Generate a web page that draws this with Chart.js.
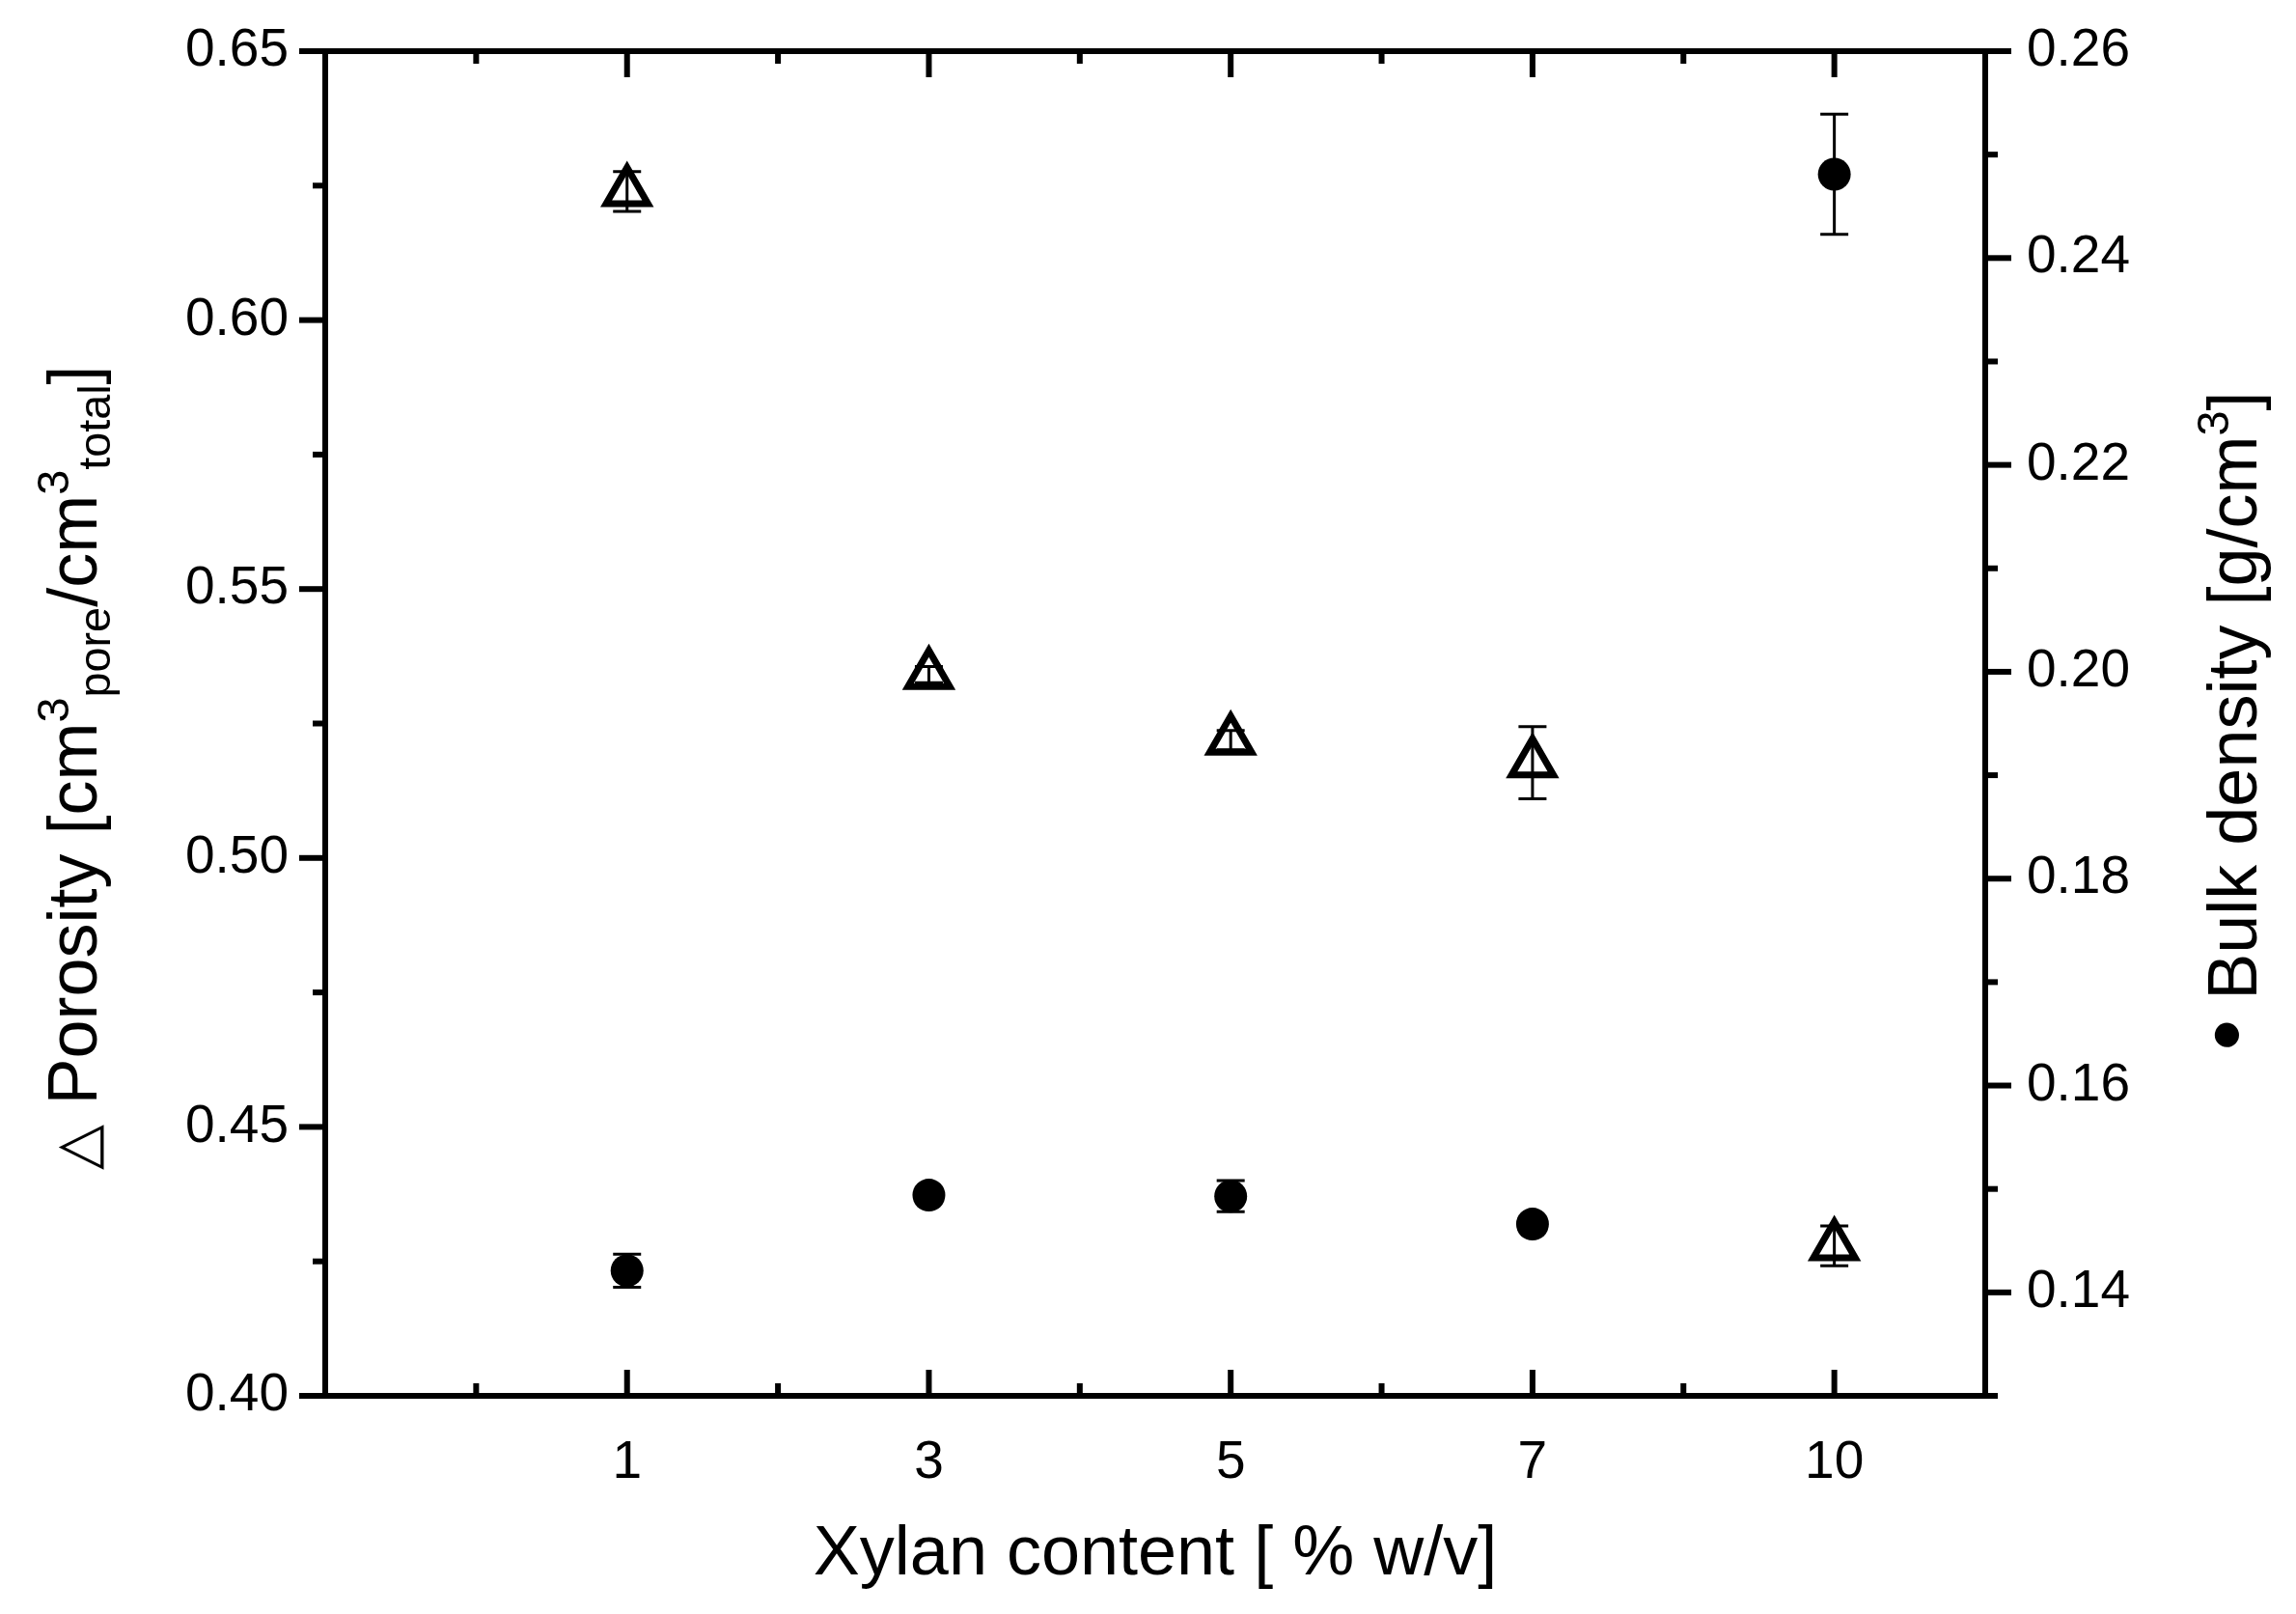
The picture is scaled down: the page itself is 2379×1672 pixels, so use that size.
<!DOCTYPE html>
<html>
<head>
<meta charset="utf-8">
<script src="https://cdn.jsdelivr.net/npm/chart.js@4.4.1/dist/chart.umd.min.js"></script>
<style>
  html, body { margin: 0; padding: 0; background: #fff; }
  canvas { display: block; }
</style>
</head>
<body>
<canvas id="chart" width="2379" height="1672" style="width:2379px;height:1672px"></canvas>
<script>
// categories (plotted at equal spacing, like the original)
const xylanLabels = ['1', '3', '5', '7', '10'];
const xPositions = [1, 2, 3, 4, 5];

// triangles, left axis
const porosity = [0.6239, 0.5341, 0.5219, 0.5177, 0.4279];
const porosityErr = [0.0037, 0.0015, 0.0018, 0.0067, 0.0037];

// filled circles, right axis
const density = [0.1421, 0.1494, 0.1493, 0.1466, 0.2481];
const densityErr = [0.0016, 0.0004, 0.0015, 0.0004, 0.0058];

// tick values
const xMinorTicks = [0.5, 1.5, 2.5, 3.5, 4.5];
const leftTicks = [0.40, 0.45, 0.50, 0.55, 0.60, 0.65];
const leftMinorTicks = [0.425, 0.475, 0.525, 0.575, 0.625];
const rightTicks = [0.14, 0.16, 0.18, 0.20, 0.22, 0.24, 0.26];
const rightMinorTicks = [0.13, 0.15, 0.17, 0.19, 0.21, 0.23, 0.25];

const leftTitle = [
    { text: '\u25B3', scale: 0.85 },
    { text: ' Porosity [cm' },
    { text: '3', sup: true },
    { text: 'pore', sub: true },
    { text: '/cm' },
    { text: '3', sup: true },
    { text: 'total', sub: true },
    { text: ']' },
];
const rightTitle = [
    { text: '\u2022', scale: 1.3 },
    { text: ' Bulk density [g/cm' },
    { text: '3', sup: true },
    { text: ']' },
];

const FONT = "'Liberation Sans', Arial, sans-serif";
const TITLE_SIZE = 72;
const TICK_SIZE = 55;

const toPoints = (values) => values.map((v, i) => ({ x: xPositions[i], y: v }));

const frameAndTicks = {
    id: 'frameAndTicks',
    beforeDatasetsDraw(chart) {
        const { ctx, chartArea: a, scales } = chart;
        const MAJOR = 27, MINOR = 13;
        const line = (x1, y1, x2, y2) => {
            ctx.beginPath();
            ctx.moveTo(x1, y1);
            ctx.lineTo(x2, y2);
            ctx.stroke();
        };
        const label = (text, x, y, align) => {
            ctx.textAlign = align;
            ctx.textBaseline = 'middle';
            ctx.fillText(text, x, y);
        };
        ctx.save();
        ctx.strokeStyle = '#000';
        ctx.fillStyle = '#000';
        ctx.font = TICK_SIZE + 'px ' + FONT;
        ctx.lineWidth = 6;
        ctx.strokeRect(a.left, a.top, a.right - a.left, a.bottom - a.top);

        const xTick = (v, len) => {
            const px = scales.x.getPixelForValue(v);
            line(px, a.bottom, px, a.bottom - len);
            line(px, a.top, px, a.top + len);
        };
        xPositions.forEach(v => xTick(v, MAJOR));
        xMinorTicks.forEach(v => xTick(v, MINOR));
        xPositions.forEach((v, i) => label(xylanLabels[i], scales.x.getPixelForValue(v), a.bottom + 70, 'center'));

        const leftTick = (v, len) => {
            const py = scales.y.getPixelForValue(v);
            line(a.left, py, a.left - len, py);
        };
        leftTicks.forEach(v => leftTick(v, MAJOR));
        leftMinorTicks.forEach(v => leftTick(v, MINOR));
        leftTicks.forEach(v => label(v.toFixed(2), a.left - 38, scales.y.getPixelForValue(v), 'right'));

        const rightTick = (v, len) => {
            const py = scales.y2.getPixelForValue(v);
            line(a.right, py, a.right + len, py);
        };
        rightTicks.forEach(v => rightTick(v, MAJOR));
        rightMinorTicks.forEach(v => rightTick(v, MINOR));
        rightTicks.forEach(v => label(v.toFixed(2), a.right + 43, scales.y2.getPixelForValue(v), 'left'));
        ctx.restore();
    }
};

const errorBars = {
    id: 'errorBars',
    afterDatasetsDraw(chart) {
        const { ctx } = chart;
        const cap = 14.5;
        ctx.save();
        ctx.strokeStyle = '#000';
        ctx.lineWidth = 3;
        chart.data.datasets.forEach((ds) => {
            const yScale = chart.scales[ds.yAxisID];
            ds.data.forEach((p, j) => {
                const err = ds.errors[j];
                const px = chart.scales.x.getPixelForValue(p.x);
                const top = yScale.getPixelForValue(p.y + err);
                const bot = yScale.getPixelForValue(p.y - err);
                ctx.beginPath();
                ctx.moveTo(px, top); ctx.lineTo(px, bot);
                ctx.moveTo(px - cap, top); ctx.lineTo(px + cap, top);
                ctx.moveTo(px - cap, bot); ctx.lineTo(px + cap, bot);
                ctx.stroke();
            });
        });
        ctx.restore();
    }
};

// rotated titles with super/subscripts
const drawRich = (ctx, parts, baseX, centerY) => {
    const fontFor = (p) => {
        let size = TITLE_SIZE * (p.scale || 1);
        if (p.sup || p.sub) size = TITLE_SIZE * 0.65;
        return size + 'px ' + FONT;
    };
    let total = 0;
    parts.forEach(p => {
        ctx.font = fontFor(p);
        p.w = ctx.measureText(p.text).width;
        total += p.w;
    });
    ctx.save();
    ctx.translate(baseX, centerY);
    ctx.rotate(-Math.PI / 2);
    ctx.fillStyle = '#000';
    ctx.textBaseline = 'alphabetic';
    ctx.textAlign = 'left';
    let x = -total / 2;
    parts.forEach(p => {
        ctx.font = fontFor(p);
        let dy = 0;
        if (p.sup) dy = -TITLE_SIZE * 0.40;
        if (p.sub) dy = TITLE_SIZE * 0.20;
        ctx.fillText(p.text, x, dy);
        x += p.w;
    });
    ctx.restore();
};

const axisTitles = {
    id: 'axisTitles',
    afterDraw(chart) {
        drawRich(chart.ctx, leftTitle, 100, 795);
        drawRich(chart.ctx, rightTitle, 2338, 747);
    }
};

new Chart('chart', {
    type: 'scatter',
    data: {
        datasets: [
            {
                label: 'Porosity',
                data: toPoints(porosity),
                errors: porosityErr,
                yAxisID: 'y',
                pointStyle: 'triangle',
                pointRadius: 25,
                pointHoverRadius: 25,
                pointBorderWidth: 7,
                borderColor: '#000',
                backgroundColor: 'rgba(0,0,0,0)',
            },
            {
                label: 'Bulk density',
                data: toPoints(density),
                errors: densityErr,
                yAxisID: 'y2',
                pointStyle: 'circle',
                pointRadius: 17,
                pointHoverRadius: 17,
                pointBorderWidth: 0,
                borderColor: '#000',
                backgroundColor: '#000',
            },
        ],
    },
    options: {
        responsive: false,
        animation: false,
        devicePixelRatio: 1,
        events: [],
        layout: { padding: { top: 53, left: 0, right: 0, bottom: 0 } },
        plugins: {
            legend: { display: false },
            tooltip: { enabled: false },
        },
        scales: {
            // ticks and tick labels are drawn by the frameAndTicks plugin
            x: {
                type: 'linear',
                position: 'bottom',
                min: 0,
                max: 5.5,
                afterFit: (s) => { s.height = 226; },
                grid: { display: false, drawTicks: false },
                border: { display: false },
                ticks: { display: false },
                title: {
                    display: true,
                    text: 'Xylan content [ % w/v]',
                    font: { family: FONT, size: TITLE_SIZE },
                    color: '#000',
                    padding: { top: 0, bottom: 18 },
                },
            },
            y: {
                position: 'left',
                min: 0.40,
                max: 0.65,
                afterFit: (s) => { s.width = 337; },
                grid: { display: false, drawTicks: false },
                border: { display: false },
                ticks: { display: false },
            },
            y2: {
                position: 'right',
                min: 0.13,
                max: 0.26,
                afterFit: (s) => { s.width = 322; },
                grid: { display: false, drawTicks: false },
                border: { display: false },
                ticks: { display: false },
            },
        },
    },
    plugins: [frameAndTicks, errorBars, axisTitles],
});
</script>
</body>
</html>
